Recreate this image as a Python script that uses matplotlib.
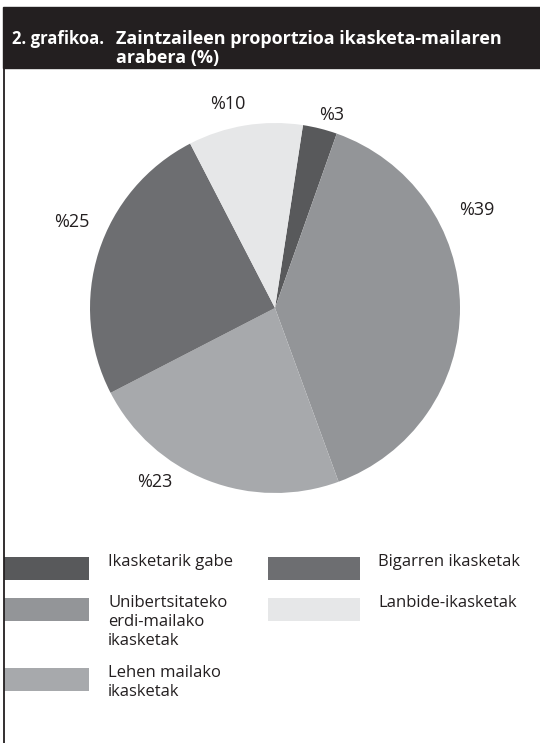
import matplotlib.pyplot as plt
from matplotlib.patches import Rectangle

plt.rcParams['font.family'] = ['Open Sans', 'DejaVu Sans']

# datuak
kategoriak = ["Ikasketarik gabe", "Unibertsitateko\nerdi-mailako\nikasketak",
              "Lehen mailako\nikasketak", "Bigarren ikasketak", "Lanbide-ikasketak"]
balioak = [3, 39, 23, 25, 10]
etiketak = ["%3", "%39", "%23", "%25", "%10"]
koloreak = ["#58595b", "#939598", "#a7a9ac", "#6d6e71", "#e6e7e8"]

W, H = 540, 743
fig = plt.figure(figsize=(W / 100, H / 100), dpi=100)

# goiburua
bg = fig.add_axes([0, 0, 1, 1])
bg.set_xlim(0, W)
bg.set_ylim(H, 0)
bg.set_axis_off()
bg.add_patch(Rectangle((3, 7), W, 61, color="#231f20"))
bg.plot([3.5, 3.5], [68, H], color="#231f20", lw=1.3)
bg.text(12, 44, "2. grafikoa.", color="white", fontsize=12, fontweight="bold")
bg.text(116, 44, "Zaintzaileen proportzioa ikasketa-mailaren", color="white",
        fontsize=13, fontweight="bold")
bg.text(116, 63, "arabera (%)", color="white", fontsize=13, fontweight="bold")

# tarta
cx, cy, r = 275, 308, 185
ax = fig.add_axes([(cx - r) / W, (H - cy - r) / H, 2 * r / W, 2 * r / H])
ax.pie(balioak, colors=koloreak, startangle=81.3, counterclock=False,
       wedgeprops=dict(linewidth=0))
ax.set_xlim(-1, 1)
ax.set_ylim(-1, 1)
ax.set_aspect("equal")

# etiketen kokapena (pixeletan, zentroarekiko)
etiketa_pos = [(57, 193), (202, 98), (-120, -174), (-203, 86), (-47, 204)]
for lbl, (dx, dy) in zip(etiketak, etiketa_pos):
    ax.text(dx / r, dy / r, lbl, ha="center", va="center", fontsize=13,
            color="#231f20")

# legenda
leg_x = [4, 268]
leg_y = [557, 598, 668]
leg_ord = [(0, 0), (0, 1), (0, 2), (1, 0), (1, 1)]
for i, (col, row) in enumerate(leg_ord):
    x0 = leg_x[col]
    y0 = leg_y[row]
    bg.add_patch(Rectangle((x0, y0), 85 if col == 0 else 92, 23,
                           color=koloreak[i], lw=0))
    bg.text(x0 + 104 if col == 0 else x0 + 110, y0 - 3, kategoriak[i],
            va="top", ha="left", fontsize=12, color="#231f20", linespacing=1.25)

fig.savefig("out.png", dpi=100)
